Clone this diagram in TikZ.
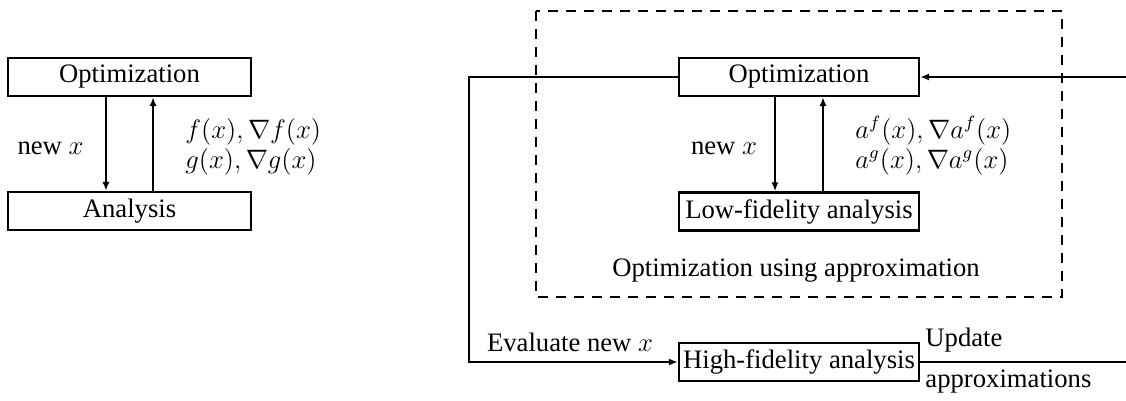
\documentclass[tikz,border=0pt]{standalone}
\usepackage[no-math]{fontspec}
\setmainfont{Liberation Serif}
\usetikzlibrary{arrows.meta}
\tikzset{
  every node/.style={font=\fontsize{12}{13.5}\selectfont, inner sep=0pt},
  box/.style={draw, line width=1.1pt, minimum height=17.1pt, inner sep=0pt},
  lbox/.style={box, minimum width=109.35pt},
  rbox/.style={box, minimum width=108pt},
  flow/.style={line width=1pt, -{Latex[length=4pt,width=3.2pt]}},
  plain/.style={line width=1.1pt},
  frame/.style={line width=1.1pt, dash pattern=on 4.5pt off 3.6pt},
  lbl/.style={align=left, anchor=west}
}
\begin{document}
\begin{tikzpicture}[x=0.45pt, y=-0.45pt]
\useasboundingbox (0,0) rectangle (1126,401);

% single-fidelity loop
\node[lbox] (lopt) at (129.5,77) {Optimization};
\node[lbox] (lana) at (129.5,211) {Analysis};
\draw[flow] ([xshift=-10.6pt]lopt.south) -- ([xshift=-10.6pt]lana.north);
\draw[flow] ([xshift=10.6pt]lana.north) -- ([xshift=10.6pt]lopt.south);
\node (lnew) at (50.5,148) {new $x$};
\node[lbl] (lfg) at (185,147) {$f(x), \nabla f(x)$\\ $g(x), \nabla g(x)$};

% approximate optimization subproblem
\draw[frame] (536,11) rectangle (1062,297);
\node[rbox] (ropt) at (799,77) {Optimization};
\node[rbox] (low) at (799,211.5) {Low-fidelity analysis};
\draw[flow] ([xshift=-10.8pt]ropt.south) -- ([xshift=-10.8pt]low.north);
\draw[flow] ([xshift=10.8pt]low.north) -- ([xshift=10.8pt]ropt.south);
\node (rnew) at (724,148) {new $x$};
\node[lbl] (rag) at (855,146) {$a^f(x), \nabla a^f(x)$\\ $a^g(x), \nabla a^g(x)$};
\node (cap) at (796,271) {Optimization using approximation};

% high-fidelity trust loop
\node[rbox] (high) at (799,362) {High-fidelity analysis};
\coordinate (tl) at (469,77);
\coordinate (tr) at (1126,77);
\coordinate (br) at (1126,362);
\draw[flow] (ropt.west) -- (tl) |- (high.west);
\draw[plain] (high.east) -- (br);
\draw[flow] (tr) -- (ropt.east);
\node (eval) at (570,342) {Evaluate new $x$};
\node[anchor=west] (upd) at (925,340) {Update};
\node[anchor=west] (appr) at (925,382) {approximations};
\end{tikzpicture}
\end{document}
